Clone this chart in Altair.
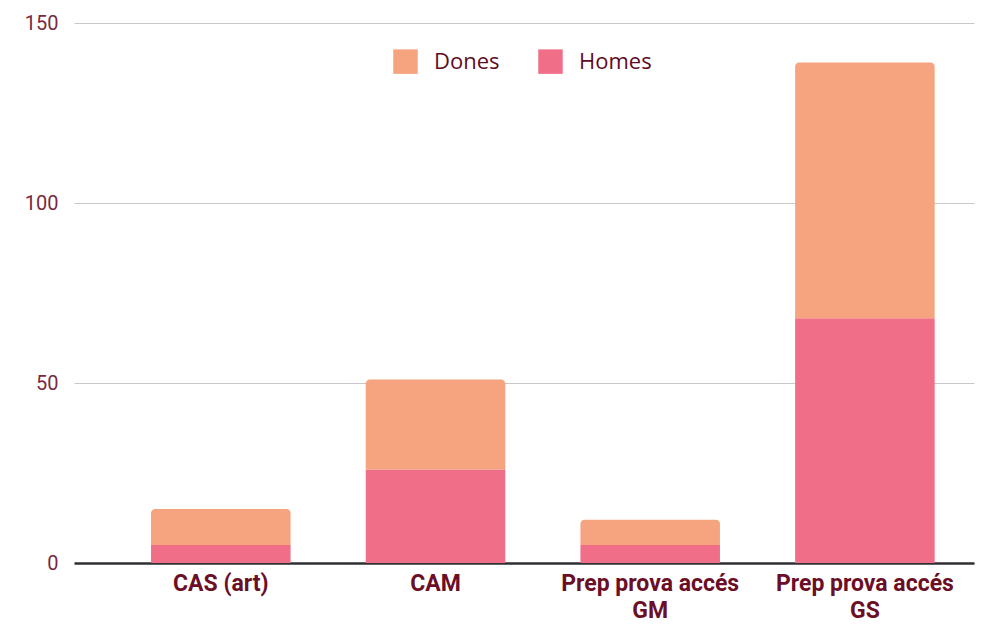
import altair as alt
import pandas as pd

categories = ["CAS (art)", "CAM", "Prep prova accés GM", "Prep prova accés GS"]
homes = [5, 26, 5, 68]
dones = [10, 25, 7, 71]

df = pd.DataFrame({"cat": categories, "homes": homes, "dones": dones})

label_expr = ("indexof(datum.label, 'accés ') >= 0 ? "
              "[substring(datum.label, 0, 16), substring(datum.label, 17)] : datum.label")

color_scale = alt.Scale(domain=["Dones", "Homes"], range=["#F5A47F", "#F06E87"])

x_enc = alt.X("cat:N", sort=categories, title=None,
              scale=alt.Scale(paddingInner=0.35, paddingOuter=0.271, align=0.662),
              axis=alt.Axis(labelExpr=label_expr, labelAngle=0, labelFont="Roboto",
                            labelFontWeight="bold", labelFontSize=23, labelColor="#6B0E26",
                            labelPadding=9, labelLineHeight=27, ticks=False,
                            domainColor="#2E3033", domainWidth=2.5, grid=False,
                            labelLimit=300))

y_scale = alt.Scale(domain=[0, 150], nice=False)
y_axis = alt.Axis(values=[0, 50, 100, 150], title=None, labelFont="Roboto",
                  labelFontSize=20, labelColor="#7A2A3E", labelPadding=16,
                  ticks=False, domain=False, gridColor="#C8C8C8", gridWidth=1.2)

base = alt.Chart(df)

homes_bar = base.transform_calculate(series="'Homes'").mark_bar().encode(
    x=x_enc,
    y=alt.Y("homes:Q", scale=y_scale, axis=y_axis),
    color=alt.Color("series:N", scale=color_scale,
                    legend=alt.Legend(title=None, orient="none", direction="horizontal",
                                      legendX=319, legendY=26, symbolType="square",
                                      symbolSize=600, symbolStrokeWidth=0,
                                      labelFont="Open Sans", labelFontSize=22,
                                      labelColor="#5E0B24", columnPadding=38,
                                      labelOffset=16)),
)

dones_bar = base.transform_calculate(
    total="datum.homes + datum.dones", series="'Dones'"
).mark_bar(cornerRadiusTopLeft=4, cornerRadiusTopRight=4).encode(
    x=x_enc,
    y=alt.Y("total:Q", scale=y_scale, axis=y_axis),
    y2="homes:Q",
    color=alt.Color("series:N", scale=color_scale),
)

chart = alt.layer(homes_bar, dones_bar).properties(
    width=900, height=540,
    autosize=alt.AutoSizeParams(type="none"),
    padding={"left": 66, "top": 15, "right": 6, "bottom": 62},
).configure_view(stroke=None).configure_axisY(zindex=0)

chart.save("out.html", embed_options={"renderer": "svg", "actions": False})
